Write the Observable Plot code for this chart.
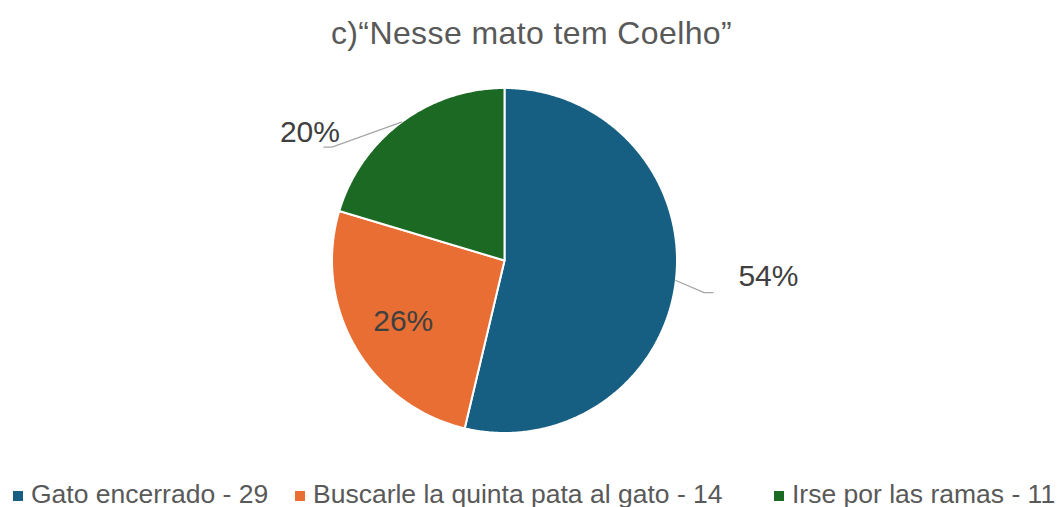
<!DOCTYPE html>
<html>
<head>
<meta charset="utf-8">
<script src="https://cdn.jsdelivr.net/npm/d3@7"></script>
<script src="https://cdn.jsdelivr.net/npm/@observablehq/plot@0.6"></script>
<style>
  html, body { margin: 0; padding: 0; background: #fff; }
  body { width: 1063px; height: 507px; overflow: hidden; position: relative; font-family: "Liberation Sans", Arial, sans-serif; }
  #title { position: absolute; left: 0; top: 0; width: 1063px; height: 66px; text-align: center; color: #595959; font-size: 32px; line-height: 66px; letter-spacing: 0.4px; }
  #chart { position: absolute; left: 0; top: 70px; }
  #legend { position: absolute; left: 0; top: 478px; width: 1063px; height: 29px; color: #595959; font-size: 26.5px; white-space: nowrap; }
  .item { position: absolute; top: 0; line-height: 32px; }
  .sw { display: inline-block; width: 10px; height: 10px; margin-right: 8px; vertical-align: 2px; }
</style>
</head>
<body>
<div id="title"></div>
<div id="chart"></div>
<div id="legend"></div>
<script>
const title = "c)“Nesse mato tem Coelho”";
const categories = ["Gato encerrado", "Buscarle la quinta pata al gato", "Irse por las ramas"];
const counts = [29, 14, 11];
const colors = ["#175F82", "#E86E33", "#1B6923"];

// layout (unit-circle coordinates, y up) for the percentage labels and leader lines
const labelPos = [[1.53, -0.09], [-0.587, -0.355], [-1.128, 0.744]];
const leaderElbow = [[1.157, -0.186], null, [-1.0, 0.657]];
const leaderEnd = [[1.209, -0.186], null, [-1.047, 0.657]];

const total = d3.sum(counts);
const pie = d3.pie().sort(null).value(d => d)(counts);

// slice polygons, angle measured clockwise from 12 o'clock
const slicePts = [];
pie.forEach((p, i) => {
  const n = Math.max(2, Math.ceil((p.endAngle - p.startAngle) / (Math.PI / 360)));
  slicePts.push({cat: categories[i], x: 0, y: 0});
  for (let k = 0; k <= n; k++) {
    const a = p.startAngle + (p.endAngle - p.startAngle) * k / n;
    slicePts.push({cat: categories[i], x: Math.sin(a), y: Math.cos(a)});
  }
  slicePts.push({cat: categories[i], x: 0, y: 0});
});

const labels = counts.map((v, i) => ({
  text: Math.round(v / total * 100) + "%",
  x: labelPos[i][0], y: labelPos[i][1]
}));

const leaders = [];
pie.forEach((p, i) => {
  if (!leaderElbow[i]) return;
  const mid = (p.startAngle + p.endAngle) / 2;
  leaders.push({k: i, x: Math.sin(mid), y: Math.cos(mid)});
  leaders.push({k: i, x: leaderElbow[i][0], y: leaderElbow[i][1]});
  leaders.push({k: i, x: leaderEnd[i][0], y: leaderEnd[i][1]});
});

const cx = 504, cy = 190, r = 172.5;
const plot = Plot.plot({
  width: 1063,
  height: 400,
  margin: 0,
  x: {domain: [-1, 1], range: [cx - r, cx + r], axis: null},
  y: {domain: [-1, 1], range: [cy + r, cy - r], axis: null},
  color: {type: "ordinal", domain: categories, range: colors},
  style: {background: "transparent", overflow: "visible"},
  marks: [
    Plot.line(slicePts, {x: "x", y: "y", z: "cat", fill: "cat", stroke: "white", strokeWidth: 2, strokeLinejoin: "round", curve: "linear"}),
    Plot.line(leaders, {x: "x", y: "y", z: "k", stroke: "#A6A6A6", strokeWidth: 1.2}),
    Plot.text(labels, {x: "x", y: "y", text: "text", fill: "#404040", fontSize: 30, fontFamily: "Liberation Sans, Arial, sans-serif"})
  ]
});
document.getElementById("chart").appendChild(plot);
document.getElementById("title").textContent = title;

const legendLeft = [13, 295, 774];
const lg = document.getElementById("legend");
categories.forEach((c, i) => {
  const it = document.createElement("div");
  it.className = "item";
  it.style.left = legendLeft[i] + "px";
  const sw = document.createElement("span");
  sw.className = "sw";
  sw.style.background = colors[i];
  it.appendChild(sw);
  it.appendChild(document.createTextNode(c + " - " + counts[i]));
  lg.appendChild(it);
});
</script>
</body>
</html>
